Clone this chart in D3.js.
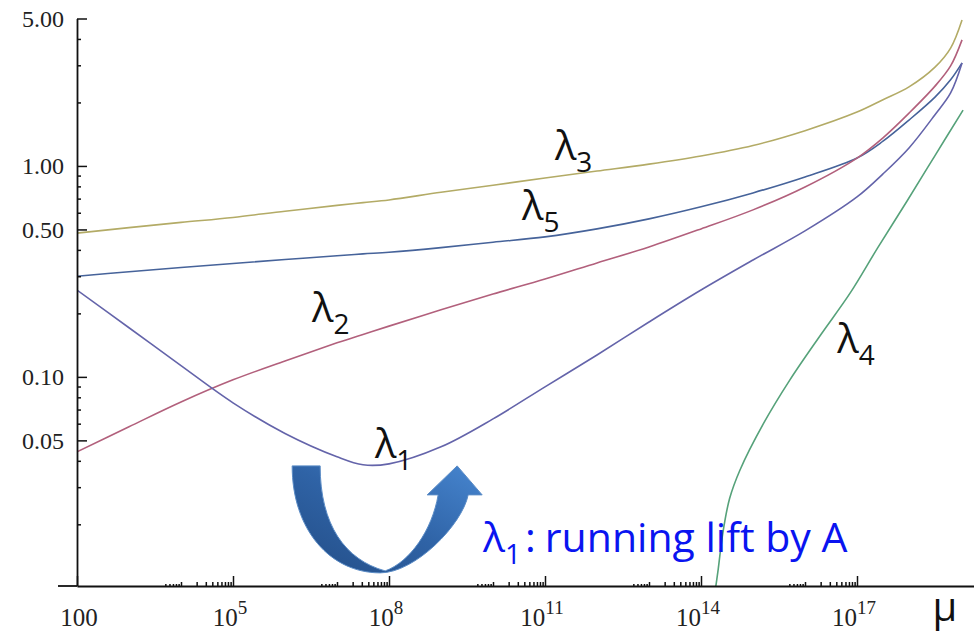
<!DOCTYPE html>
<html>
<head>
<meta charset="utf-8">
<script src="https://cdn.jsdelivr.net/npm/d3@7"></script>
<style>
  body { margin: 0; background: #fff; }
</style>
</head>
<body>
<div id="chart"></div>
<script>
// log10(mu) values shared by lambda1, lambda2, lambda3, lambda5
const muExp   = [2, 3, 4, 5, 6, 7, 7.5, 8, 9, 10, 11, 12, 13, 14, 15, 16, 17, 17.5, 18, 18.5, 18.8, 19.02];
const lambda1 = [0.258, 0.171, 0.113, 0.0753, 0.0539, 0.0418, 0.0383, 0.0387, 0.0466, 0.0632, 0.0897, 0.127, 0.182, 0.258, 0.358, 0.492, 0.713, 0.917, 1.217, 1.75, 2.22, 3.08];
const lambda2 = [0.0441, 0.058, 0.076, 0.0968, 0.119, 0.145, 0.159, 0.174, 0.208, 0.247, 0.291, 0.347, 0.413, 0.503, 0.619, 0.795, 1.09, 1.36, 1.78, 2.39, 2.98, 3.96];
const lambda3 = [0.48, 0.51, 0.54, 0.57, 0.61, 0.65, 0.67, 0.69, 0.75, 0.81, 0.877, 0.946, 1.02, 1.115, 1.25, 1.47, 1.80, 2.06, 2.37, 2.94, 3.62, 4.92];
const lambda5 = [0.30, 0.315, 0.33, 0.345, 0.36, 0.375, 0.383, 0.39, 0.41, 0.435, 0.461, 0.503, 0.561, 0.640, 0.745, 0.887, 1.09, 1.31, 1.65, 2.12, 2.56, 3.08];
// lambda4 only starts near 10^14
const mu4Exp  = [14.26, 14.33, 14.42, 14.55, 14.75, 15.2, 15.71, 16.3, 16.87, 17.4, 17.96, 18.5, 19.04];
const lambda4 = [0.0092, 0.0122, 0.0182, 0.0265, 0.0362, 0.0600, 0.0968, 0.158, 0.250, 0.410, 0.680, 1.12, 1.84];

const yMajor = [0.05, 0.1, 0.5, 1, 5];
const yMinor = [0.02, 0.03, 0.04, 0.06, 0.07, 0.08, 0.09, 0.2, 0.3, 0.4, 0.6, 0.7, 0.8, 0.9, 2, 3, 4];
const xMajorExp = [2, 5, 8, 11, 14, 17];

// curve labels: [name, subscript, log10 mu, lambda] at the label baseline
const labels = [
  ["λ", "3", 11.19, 1.068],
  ["λ", "5", 10.56, 0.555],
  ["λ", "2", 6.52, 0.182],
  ["λ", "1", 7.73, 0.0413],
  ["λ", "4", 16.62, 0.130]
];
const note = {exp: 9.81, lam: 0.0148, text: "running lift by A"};
const arrowAt = {exp: 7.83, lam: 0.0119};

const width = 974, height = 632;
const margin = {top: 18.5, right: 0, bottom: 46, left: 77};

const svg = d3.select("#chart").append("svg")
  .attr("width", width)
  .attr("height", height);

const x = d3.scaleLog()
  .domain([1e2, Math.pow(10, 19.25)])
  .range([margin.left, width - margin.right]);
const y = d3.scaleLog()
  .domain([0.0102, 5])
  .range([height - margin.bottom, margin.top]);

svg.append("clipPath").attr("id", "plot")
  .append("rect")
  .attr("x", margin.left).attr("y", margin.top)
  .attr("width", width - margin.left - margin.right)
  .attr("height", height - margin.top - margin.bottom);

// curves
const line = d3.line()
  .x(d => x(Math.pow(10, d[0])))
  .y(d => y(d[1]))
  .curve(d3.curveCatmullRom.alpha(0.5));

const series = [
  {vals: lambda3, exps: muExp, color: "#b3ab66"},
  {vals: lambda5, exps: muExp, color: "#46639a"},
  {vals: lambda2, exps: muExp, color: "#b2607c"},
  {vals: lambda1, exps: muExp, color: "#6464aa"},
  {vals: lambda4, exps: mu4Exp, color: "#56a27a"}
];

svg.append("g").attr("clip-path", "url(#plot)")
  .selectAll("path")
  .data(series)
  .enter().append("path")
  .attr("d", s => line(s.exps.map((e, i) => [e, s.vals[i]])))
  .attr("fill", "none")
  .attr("stroke", s => s.color)
  .attr("stroke-width", 1.6);

// y axis
const yAxis = svg.append("g")
  .attr("transform", `translate(${margin.left},0)`)
  .call(d3.axisLeft(y).tickValues(yMajor).tickFormat(d3.format(".2f"))
    .tickSizeInner(-10).tickSizeOuter(0).tickPadding(13));
svg.append("g")
  .attr("transform", `translate(${margin.left},0)`)
  .call(d3.axisLeft(y).tickValues(yMinor).tickFormat("").tickSizeInner(-4).tickSizeOuter(0))
  .select(".domain").remove();

// x axis
const xMajor = xMajorExp.map(e => Math.pow(10, e));
let xMinor = [], xTiny = [];
xMajorExp.filter(e => e > 2).forEach(e => {
  for (let k = 1; k <= 9; k++) xMinor.push(k * Math.pow(10, e - 1));
  for (let k = 5; k <= 9; k++) xTiny.push(k * Math.pow(10, e - 2));
});

const xAxis = svg.append("g")
  .attr("transform", `translate(0,${height - margin.bottom})`)
  .call(d3.axisBottom(x).tickValues(xMajor).tickFormat("").tickSizeInner(-10).tickSizeOuter(0));
svg.append("g")
  .attr("transform", `translate(0,${height - margin.bottom})`)
  .call(d3.axisBottom(x).tickValues(xMinor).tickFormat("").tickSizeInner(-4).tickSizeOuter(0))
  .select(".domain").remove();
svg.append("g")
  .attr("transform", `translate(0,${height - margin.bottom})`)
  .call(d3.axisBottom(x).tickValues(xTiny).tickFormat("").tickSizeInner(-2).tickSizeOuter(0))
  .select(".domain").remove();

svg.append("line")
  .attr("x1", margin.left - 19).attr("x2", margin.left)
  .attr("y1", height - margin.bottom).attr("y2", height - margin.bottom)
  .attr("stroke", "#111").attr("stroke-width", 1.8);

svg.selectAll(".domain").attr("stroke", "#111").attr("stroke-width", 1.8);
svg.selectAll(".tick line").attr("stroke", "#111").attr("stroke-width", 1.5);
yAxis.selectAll("text")
  .style("font-family", "Liberation Serif")
  .style("font-size", "24px")
  .attr("fill", "#222");

// x tick labels, 10^n
const xl = svg.append("g").selectAll("text")
  .data(xMajorExp)
  .enter().append("text")
  .attr("x", e => x(Math.pow(10, e)) + (e == 2 ? 2 : -3))
  .attr("y", height - margin.bottom + 40)
  .attr("text-anchor", "middle")
  .style("font-family", "Liberation Serif")
  .style("font-size", "25px")
  .attr("fill", "#222");
xl.append("tspan").text(e => e == 2 ? "100" : "10");
xl.append("tspan")
  .attr("dy", -12)
  .style("font-size", "19px")
  .text(e => e == 2 ? "" : e);

// axis name
svg.append("text")
  .attr("x", x(Math.pow(10, 18.69)))
  .attr("y", height - margin.bottom + 35)
  .attr("text-anchor", "middle")
  .style("font-family", "Open Sans")
  .style("font-size", "40px")
  .attr("fill", "#111")
  .text("μ");

// curve labels
labels.forEach(l => {
  const t = svg.append("text")
    .attr("x", x(Math.pow(10, l[2])))
    .attr("y", y(l[3]))
    .style("font-family", "Open Sans")
    .style("font-size", "40px")
    .attr("fill", "#111");
  t.append("tspan").text(l[0]);
  t.append("tspan").attr("dy", 12).style("font-size", "28px").text(l[1]);
});

// running-lift arrow
const defs = svg.append("defs");
const grad = defs.append("linearGradient").attr("id", "arrowGrad")
  .attr("x1", 0).attr("y1", 1).attr("x2", 1).attr("y2", 0);
grad.append("stop").attr("offset", 0).attr("stop-color", "#234d86");
grad.append("stop").attr("offset", 0.5).attr("stop-color", "#2f63a6");
grad.append("stop").attr("offset", 1).attr("stop-color", "#4786d0");

const ax = x(Math.pow(10, arrowAt.exp)), ay = y(arrowAt.lam);
svg.append("path")
  .attr("transform", `translate(${ax},${ay})`)
  .attr("d", "M-88,-106 L-60,-106 C-60,-47 -35,-12 5,-1 C30,-10 52,-42 58,-77 L47,-77 L77,-106 L102,-77 L88,-77 C82,-47 35,1 0,1 C-50,1 -88,-42 -88,-106 Z")
  .attr("fill", "url(#arrowGrad)")
  .attr("stroke", "#5b8cc6")
  .attr("stroke-width", 1);

const n = svg.append("text")
  .attr("x", x(Math.pow(10, note.exp)))
  .attr("y", y(note.lam))
  .style("font-family", "Open Sans")
  .style("font-size", "41px")
  .attr("fill", "#0a14f0");
n.append("tspan").text("λ");
n.append("tspan").attr("dy", 12).style("font-size", "28px").text("1");
n.append("tspan").attr("dy", -12).attr("dx", 4).text(":");
n.append("tspan").attr("dx", 9).text(note.text);
</script>
</body>
</html>
